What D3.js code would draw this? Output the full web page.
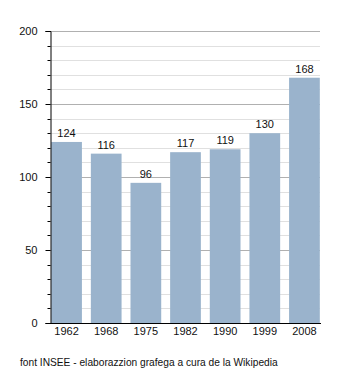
<!DOCTYPE html>
<html>
<head>
<meta charset="utf-8">
<script src="https://cdn.jsdelivr.net/npm/d3@7"></script>
<style>
  html, body { margin: 0; padding: 0; background: #fff; }
  svg { display: block; font-family: "Liberation Sans", Arial, sans-serif; }
</style>
</head>
<body>
<svg id="chart" width="350" height="373"></svg>
<script>
// Population by census year
const years = ["1962", "1968", "1975", "1982", "1990", "1999", "2008"];
const population = [124, 116, 96, 117, 119, 130, 168];
const majorTicks = [0, 50, 100, 150, 200];
const caption = "font INSEE - elaborazzion grafega a cura de la Wikipedia";

const svg = d3.select("#chart");
const plotLeft = 50, plotRight = 321, plotTop = 31, plotBottom = 323;

const x = d3.scaleBand()
  .domain(years)
  .range([plotLeft, plotRight])
  .paddingInner(0.225)
  .paddingOuter(0.03);

const y = d3.scaleLinear().domain([0, 200]).range([plotBottom, plotTop]);

// minor grid every 10, major grid every 50
const minor = d3.range(10, 201, 10).filter(v => v % 50 !== 0);
svg.append("g").selectAll("line").data(minor).join("line")
  .attr("x1", plotLeft).attr("x2", plotRight - 1)
  .attr("y1", d => Math.round(y(d)) + 0.5).attr("y2", d => Math.round(y(d)) + 0.5)
  .attr("stroke", "#e0e0e0").attr("stroke-width", 1);
svg.append("g").selectAll("line").data(majorTicks.filter(v => v > 0)).join("line")
  .attr("x1", plotLeft).attr("x2", plotRight - 1)
  .attr("y1", d => Math.round(y(d)) + 0.5).attr("y2", d => Math.round(y(d)) + 0.5)
  .attr("stroke", "#b0b0b0").attr("stroke-width", 1);

// bars
svg.append("g").selectAll("rect").data(years).join("rect")
  .attr("x", d => x(d))
  .attr("width", x.bandwidth())
  .attr("y", (d, i) => y(population[i]))
  .attr("height", (d, i) => y(0) - y(population[i]))
  .attr("fill", "#9ab3cc");

// value labels
svg.append("g").selectAll("text").data(years).join("text")
  .attr("x", d => x(d) + x.bandwidth() / 2)
  .attr("y", (d, i) => y(population[i]) - 5)
  .attr("text-anchor", "middle")
  .attr("font-size", 11)
  .attr("fill", "#111")
  .text((d, i) => population[i]);

// y axis with major and minor ticks
const yAxis = svg.append("g").attr("transform", `translate(${plotLeft + 0.5},0)`);
yAxis.call(d3.axisLeft(y).tickValues(majorTicks).tickSize(5).tickPadding(8))
  .call(g => g.select(".domain").attr("stroke", "#000"))
  .call(g => g.selectAll(".tick text").attr("font-size", 11).attr("fill", "#111")
    .attr("font-family", "Liberation Sans, Arial, sans-serif"));
yAxis.append("g").selectAll("line").data(minor).join("line")
  .attr("x1", -3).attr("x2", 0)
  .attr("y1", d => Math.round(y(d)) + 0.5).attr("y2", d => Math.round(y(d)) + 0.5)
  .attr("stroke", "#000");

// x axis
svg.append("g").attr("transform", `translate(0,${plotBottom + 0.5})`)
  .call(d3.axisBottom(x).tickSize(0).tickPadding(4))
  .call(g => g.select(".domain").attr("stroke", "#000").attr("d", `M${plotLeft},0H${plotRight}`))
  .call(g => g.selectAll(".tick text").attr("font-size", 11).attr("fill", "#111")
    .attr("font-family", "Liberation Sans, Arial, sans-serif"));

// source caption
svg.append("text")
  .attr("x", 20).attr("y", 366)
  .attr("font-size", 10.2)
  .attr("fill", "#111")
  .text(caption);
</script>
</body>
</html>
